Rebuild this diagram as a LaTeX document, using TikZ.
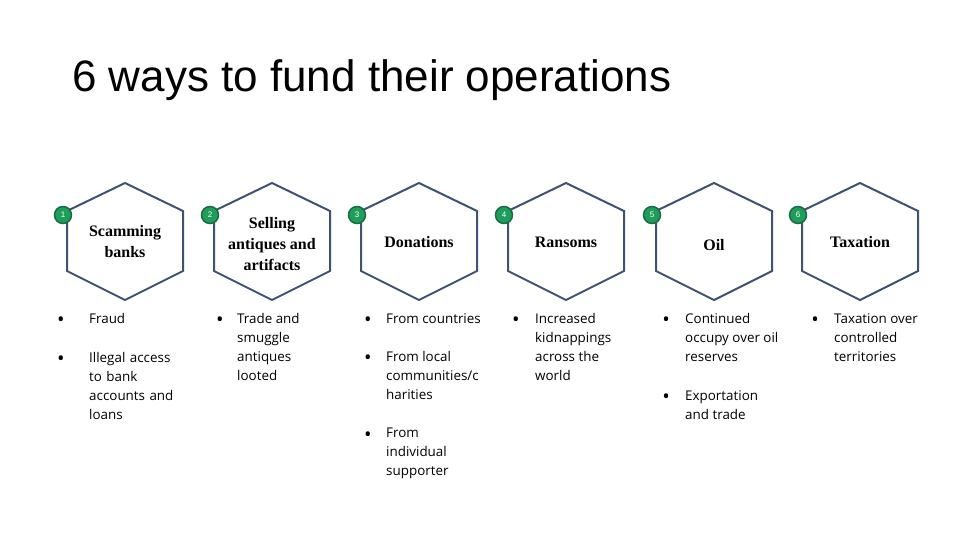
\documentclass[tikz,border=0pt]{standalone}
\usepackage{fontspec}
\setmainfont{Liberation Serif}
\newfontfamily\titlefont{Liberation Sans}
\newfontfamily\bodyfont{Open Sans}
\definecolor{hexc}{HTML}{3E5272}
\definecolor{badge}{HTML}{1E9E5A}
\definecolor{badgeb}{HTML}{1B6B43}
\begin{document}
\begin{tikzpicture}[x=1pt,y=-1pt,
  hexline/.style={draw=hexc,line width=2pt,line join=miter},
  badgec/.style={circle,fill=badge,draw=badgeb,line width=1.5pt,minimum size=17pt,inner sep=0pt,text=white,font=\titlefont\fontsize{8}{9}\selectfont},
  hlabel/.style={align=center,font=\bfseries\fontsize{16}{21}\selectfont},
  bul/.style={anchor=north west,align=left,font=\bodyfont\fontsize{13.4}{19}\selectfont,inner sep=0pt},
  dot/.style={anchor=center,font=\bodyfont\fontsize{20}{20}\selectfont,inner sep=0pt}]
\useasboundingbox (0,0) rectangle (960,540);
\node[anchor=west,font=\titlefont\fontsize{44}{48}\selectfont,inner sep=0pt] (title) at (72,80) {6 ways to fund their operations};
\foreach \i/\cx/\lab/\ly in {1/125/{Scamming\\banks}/242, 2/272/{Selling\\antiques and\\artifacts}/244, 3/419/{Donations}/242, 4/566/{Ransoms}/242, 5/714/{Oil}/245, 6/860/{Taxation}/242}{
  \draw[hexline] (\cx,183) -- (\cx+58,211) -- (\cx+58,271) -- (\cx,300) -- (\cx-58,271) -- (\cx-58,211) -- cycle;
  \node[hlabel] (h\i) at (\cx,\ly) {\lab};
  \node[badgec] (b\i) at (\cx-62,215) {\i};
}
% column 1
\node[dot] (d11) at (61,322) {•}; \node[bul,text width=90pt] (t11) at (89,313) {Fraud};
\node[dot] (d12) at (61,361) {•}; \node[bul,text width=90pt] (t12) at (89,352) {Illegal access\\to bank\\accounts and\\loans};
% column 2
\node[dot] (d21) at (220,322) {•}; \node[bul] (t21) at (237,313) {Trade and\\smuggle\\antiques\\looted};
% column 3
\node[dot] (d31) at (368,322) {•}; \node[bul] (t31) at (386,313) {From countries};
\node[dot] (d32) at (368,360) {•}; \node[bul] (t32) at (386,351) {From local\\communities/c\\harities};
\node[dot] (d33) at (368,437) {•}; \node[bul] (t33) at (386,428) {From\\individual\\supporter};
% column 4
\node[dot] (d41) at (516,322) {•}; \node[bul] (t41) at (535,313) {Increased\\kidnappings\\across the\\world};
% column 5
\node[dot] (d51) at (666,322) {•}; \node[bul] (t51) at (685,313) {Continued\\occupy over oil\\reserves};
\node[dot] (d52) at (666,399) {•}; \node[bul] (t52) at (685,390) {Exportation\\and trade};
% column 6
\node[dot] (d61) at (815,322) {•}; \node[bul] (t61) at (834,313) {Taxation over\\controlled\\territories};
\end{tikzpicture}
\end{document}
